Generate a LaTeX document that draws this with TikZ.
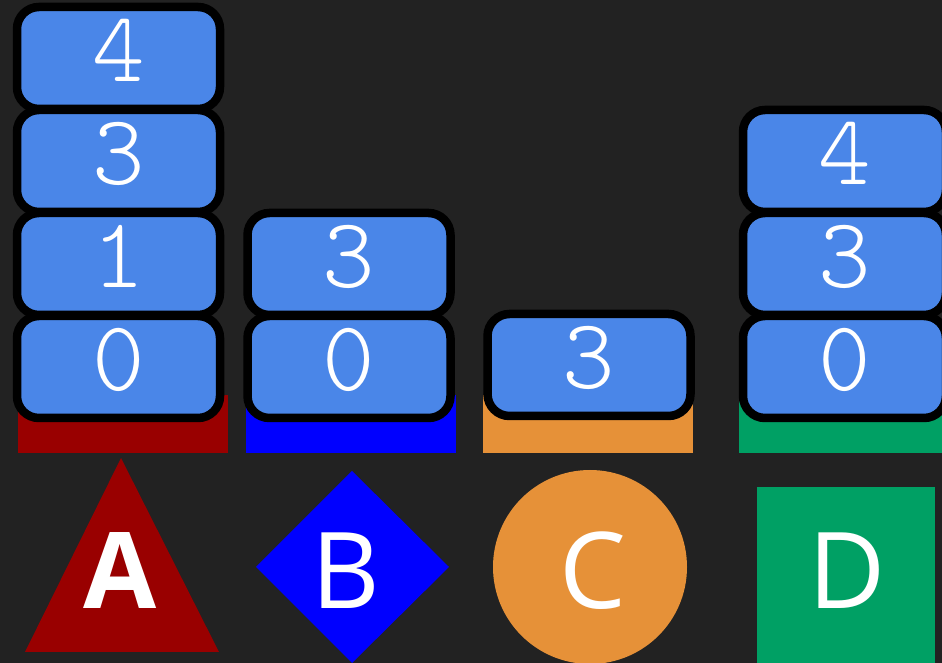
\documentclass[tikz,border=0pt]{standalone}
\usepackage{fontspec}
\usetikzlibrary{positioning}
\usepackage{xcolor}
\newfontfamily\opensans{Open Sans}
\newcommand\digitfont{\fontsize{100}{100}\fontseries{l}\ttfamily}
\newcommand\letterfont{\fontsize{106}{106}\selectfont\opensans}
\definecolor{bgdark}{HTML}{222222}
\definecolor{tileblue}{HTML}{4A86E8}
\definecolor{ared}{HTML}{990000}
\definecolor{bblue}{HTML}{0000FF}
\definecolor{corange}{HTML}{E69138}
\definecolor{dgreen}{HTML}{00A064}

\begin{document}
\begin{tikzpicture}[x=1pt,y=1pt,
        tile/.style={draw=black,fill=tileblue,line width=8.5pt,rounded corners=22pt,
          minimum width=203pt,minimum height=102pt,outer sep=0pt,text=white,
          font=\digitfont,text depth=16pt},
        glyph/.style={text=white,font=\letterfont}]
        \useasboundingbox (0,0) rectangle (942,663);
        \clip (0,0) rectangle (942,663);
        \fill[bgdark] (0,0) rectangle (942,663);
        % bars
        \fill[ared] (18,210) rectangle (228,268);
        \fill[bblue] (246,210) rectangle (456,268);
        \fill[corange] (483,210) rectangle (693,268);
        \fill[dgreen] (739,210) rectangle (949,268);
        % stack A
        \node[tile] (a0) at (118.5,296) {0};
        \node[tile,above=1pt of a0] (a1) {1};
        \node[tile,above=1pt of a1] (a3) {3};
        \node[tile,above=1pt of a3] (a4) {4};
        % stack B
        \node[tile] (b0) at (349,296) {0};
        \node[tile,above=1pt of b0] (b3) {3};
        % stack C
        \node[tile] (c3) at (589,298) {3};
        % stack D
        \node[tile] (d0) at (844.5,296) {0};
        \node[tile,above=1pt of d0] (d3) {3};
        \node[tile,above=1pt of d3] (d4) {4};
        % shapes
        \fill[ared] (25,11) -- (121,205) -- (219,11) -- cycle;
        \node[glyph,font=\letterfont\bfseries] (la) at (120,92) {A};
        \fill[bblue] (256,96) -- (352,192) -- (449,96) -- (352,0) -- cycle;
        \node[glyph] (lb) at (346,92) {B};
        \fill[corange] (590,96) circle (97);
        \node[glyph] (lc) at (593,92) {C};
        \fill[dgreen] (757,0) rectangle (935,176);
        \node[glyph] (ld) at (847,92) {D};
      \end{tikzpicture}
\end{document}
